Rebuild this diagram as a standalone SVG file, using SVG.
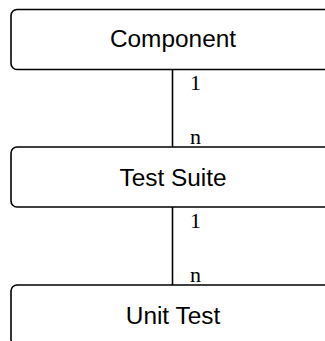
<svg xmlns="http://www.w3.org/2000/svg" width="325" height="341" viewBox="0 0 325 341">
<style>
.box{fill:#fff;stroke:#000;stroke-width:1.6}
.lbl{font-family:"Liberation Sans",Arial,sans-serif;font-size:24.4px;text-anchor:middle;fill:#000}
.card{font-family:"Liberation Serif","Times New Roman",serif;font-size:22px;fill:#000}
.conn{stroke:#000;stroke-width:1.6;fill:none}
</style>
<rect width="325" height="341" fill="#fff"/>
<g id="connectors">
<line class="conn" x1="172.5" y1="69.5" x2="172.5" y2="147"/>
<line class="conn" x1="172.5" y1="207" x2="172.5" y2="285"/>
<text class="card" x="190" y="90">1</text>
<text class="card" x="190" y="144">n</text>
<text class="card" x="190" y="228">1</text>
<text class="card" x="190" y="282">n</text>
</g>
<g id="component">
<rect class="box" x="11" y="9.5" width="323" height="60" rx="6"/>
<text class="lbl" x="173" y="47">Component</text>
</g>
<g id="test-suite">
<rect class="box" x="11" y="147" width="323" height="60" rx="6"/>
<text class="lbl" x="173" y="186">Test Suite</text>
</g>
<g id="unit-test">
<rect class="box" x="11" y="285" width="323" height="60" rx="6"/>
<text class="lbl" x="173" y="324">Unit Test</text>
</g>
</svg>
